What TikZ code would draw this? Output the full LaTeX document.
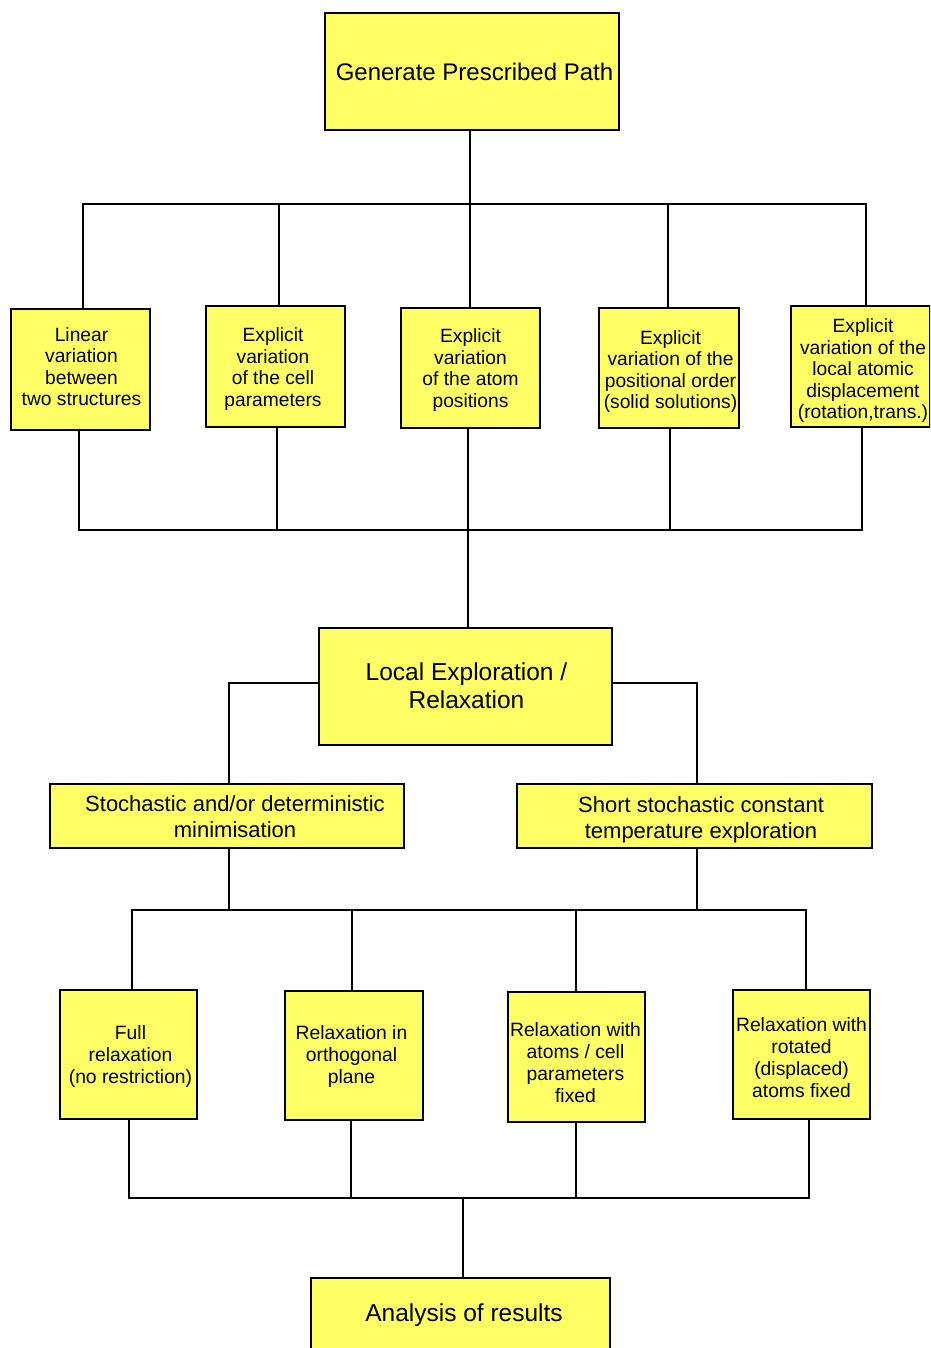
\documentclass[tikz,border=0pt]{standalone}
\usepackage{fontspec}
\setmainfont{Liberation Sans}
\definecolor{boxyellow}{HTML}{FFFF66}
\begin{document}
\begin{tikzpicture}[x=1pt,y=-1pt,
  frame/.style={draw=black,line width=1.8pt,fill=boxyellow,inner sep=0pt},
  ts/.style={align=center,inner sep=0pt,font=\fontsize{19.2}{21.5}\selectfont},
  tb/.style={align=center,inner sep=0pt,font=\fontsize{19.3}{22}\selectfont},
  tw/.style={align=center,inner sep=0pt,font=\fontsize{22}{26}\selectfont},
  tg/.style={align=center,inner sep=0pt,font=\fontsize{24.5}{28}\selectfont},
  conn/.style={line width=2.2pt,black,line cap=rect}]
\useasboundingbox (0,0) rectangle (930,1348);
\clip (0,0) rectangle (930,1348);
% top
\node[frame,minimum width=294,minimum height=117,
  label={[tg,font=\fontsize{24}{28}\selectfont,xshift=2.5pt]center:{Generate Prescribed Path}}] (top) at (472,71.5) {};
% second row
\node[frame,minimum width=139,minimum height=121,
  label={[ts,xshift=1pt,yshift=3pt]center:{Linear\\variation\\between\\two structures}}] (a1) at (80.5,369.5) {};
\node[frame,minimum width=139,minimum height=121,
  label={[ts,xshift=-2.5pt,yshift=-2.5pt]center:{Explicit\\variation\\of the cell\\parameters}}] (a2) at (275.5,366.5) {};
\node[frame,minimum width=139,minimum height=120,
  label={[ts,yshift=-2pt]center:{Explicit\\variation\\of the atom\\positions}}] (a3) at (470.5,368) {};
\node[frame,minimum width=140,minimum height=120,
  label={[ts,xshift=1.5pt,yshift=-3.5pt]center:{Explicit\\variation of the\\positional order\\(solid solutions)}}] (a4) at (669,368) {};
\node[frame,minimum width=139,minimum height=121,
  label={[ts,xshift=2.5pt,yshift=-4.5pt]center:{Explicit\\variation of the\\local atomic\\displacement\\(rotation,trans.)}}] (a5) at (860.5,366.5) {};
% local
\node[frame,minimum width=293,minimum height=117,
  label={[tg,xshift=1pt,yshift=1pt]center:{Local Exploration /\\Relaxation}}] (loc) at (465.5,686.5) {};
\node[frame,minimum width=354,minimum height=64,
  label={[tw,xshift=8pt,yshift=-1pt]center:{Stochastic and/or deterministic\\minimisation}}] (sto) at (227,816) {};
\node[frame,minimum width=355,minimum height=64,
  label={[tw,xshift=6.5pt,yshift=-3.5pt]center:{Short stochastic constant\\temperature exploration}}] (sho) at (694.5,816) {};
% bottom row
\node[frame,minimum width=137,minimum height=129,
  label={[tb,xshift=2pt,yshift=-2pt]center:{Full\\relaxation\\(no restriction)}}] (c1) at (128.5,1054.5) {};
\node[frame,minimum width=138,minimum height=129,
  label={[tb,xshift=-2.5pt,yshift=-1pt]center:{Relaxation in\\orthogonal\\plane}}] (c2) at (354,1055.5) {};
\node[frame,minimum width=137,minimum height=130,
  label={[tb,xshift=-1pt,yshift=-5.5pt]center:{Relaxation with\\atoms / cell\\parameters\\fixed}}] (c3) at (576.5,1057) {};
\node[frame,minimum width=137,minimum height=129,
  label={[tb,yshift=-3.5pt]center:{Relaxation with\\rotated\\(displaced)\\atoms fixed}}] (c4) at (801.5,1054.5) {};
\node[frame,minimum width=299,minimum height=76,
  label={[tg,xshift=3.5pt,yshift=1pt]center:{Analysis of results}}] (ana) at (460.5,1316) {};
% coordinates of bars
\coordinate (t0) at (470,204);
\coordinate (tL) at (83,204);
\coordinate (tR) at (866,204);
\coordinate (m0) at (468,530);
\coordinate (mL) at (79,530);
\coordinate (mR) at (862,530);
\coordinate (n0L) at (229,910);
\coordinate (n0R) at (697,910);
\coordinate (nL) at (132,910);
\coordinate (nR) at (806,910);
\coordinate (p0) at (463,1198);
\coordinate (pL) at (129,1198);
\coordinate (pR) at (809,1198);
% connectors
\draw[conn] (top.south -| t0) -- (t0);
\draw[conn] (tL) -- (tR);
\draw[conn] (tL) -- (tL |- a1.north);
\draw[conn] (279,204) -- (279,0 |- a2.north);
\draw[conn] (470,204) -- (470,0 |- a3.north);
\draw[conn] (668,204) -- (668,0 |- a4.north);
\draw[conn] (tR) -- (tR |- a5.north);
\draw[conn] (mL |- a1.south) -- (mL);
\draw[conn] (277,0 |- a2.south) -- (277,530);
\draw[conn] (m0 |- a3.south) -- (m0);
\draw[conn] (670,0 |- a4.south) -- (670,530);
\draw[conn] (mR |- a5.south) -- (mR);
\draw[conn] (mL) -- (mR);
\draw[conn] (m0) -- (m0 |- loc.north);
\draw[conn] (loc.west |- 0,683) -| (sto.north -| n0L);
\draw[conn] (loc.east |- 0,683) -| (sho.north -| n0R);
\draw[conn] (sto.south -| n0L) -- (n0L);
\draw[conn] (sho.south -| n0R) -- (n0R);
\draw[conn] (nL) -- (nR);
\draw[conn] (nL) -- (nL |- c1.north);
\draw[conn] (352,910) -- (352,0 |- c2.north);
\draw[conn] (576,910) -- (576,0 |- c3.north);
\draw[conn] (nR) -- (nR |- c4.north);
\draw[conn] (pL |- c1.south) -- (pL);
\draw[conn] (351,0 |- c2.south) -- (351,1198);
\draw[conn] (576,0 |- c3.south) -- (576,1198);
\draw[conn] (pR |- c4.south) -- (pR);
\draw[conn] (pL) -- (pR);
\draw[conn] (p0) -- (p0 |- ana.north);
\end{tikzpicture}
\end{document}
